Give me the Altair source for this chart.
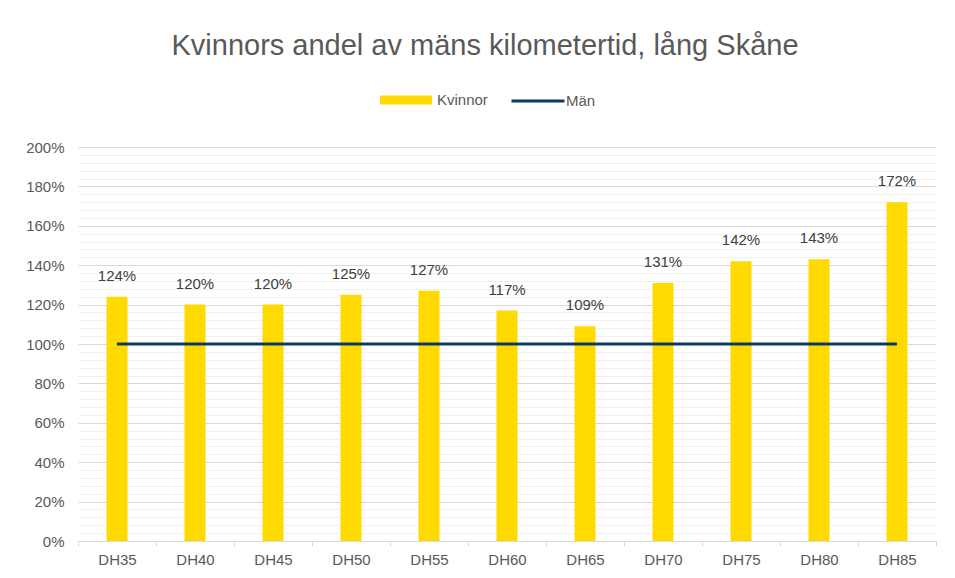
import altair as alt
import pandas as pd

categories = ["DH35", "DH40", "DH45", "DH50", "DH55", "DH60", "DH65", "DH70", "DH75", "DH80", "DH85"]
kvinnor = [1.24, 1.20, 1.20, 1.25, 1.27, 1.17, 1.09, 1.31, 1.42, 1.43, 1.72]
man = [1.0, 1.0, 1.0, 1.0, 1.0, 1.0, 1.0, 1.0, 1.0, 1.0, 1.0]
y_ticks = [i / 100 for i in range(0, 201, 4)]

df = pd.DataFrame({"cat": categories, "kvinnor": kvinnor, "man": man,
                   "k": "Kvinnor", "m": "Män"})

FONT = "Liberation Sans"
YELLOW = "#FFDA00"
NAVY = "#0E3A61"
GRAY = "#595959"

x_axis = alt.Axis(title=None, labelAngle=0, tickBand="extent",
                  domainColor="#D9D9D9", tickColor="#D9D9D9",
                  tickSize=5, labelPadding=6, labelFontSize=15,
                  labelFont=FONT, labelColor=GRAY, grid=False)
xscale = alt.Scale(paddingInner=0, paddingOuter=0)

y_axis = alt.Axis(title=None, values=y_ticks, orient="left", domain=False, ticks=False,
                  labelPadding=14, labelFontSize=15, labelFont=FONT, labelColor=GRAY,
                  labelOverlap=False,
                  labelExpr="round(datum.value*100) % 20 == 0 ? format(datum.value, '.0%') : ''",
                  gridColor={"condition": {"test": "round(datum.value*100) % 20 == 0",
                                           "value": "#D9D9D9"},
                             "value": "#F0F0F0"},
                  gridWidth=1)

yscale = alt.Scale(domain=[0, 2], nice=False)

bars = alt.Chart(df).mark_bar(size=21).encode(
    x=alt.X("cat:N", sort=categories, scale=xscale, axis=x_axis),
    y=alt.Y("kvinnor:Q", scale=yscale, axis=y_axis),
    color=alt.Color("k:N", scale=alt.Scale(domain=["Kvinnor"], range=[YELLOW]),
                    legend=alt.Legend(title=None, orient="none", legendX=302, legendY=-73,
                                      symbolType="M-1,-0.173L1,-0.173L1,0.173L-1,0.173Z",
                                      symbolSize=2704, symbolStrokeWidth=0, labelOffset=5,
                                      labelFontSize=15, labelFont=FONT, labelColor=GRAY)),
)

labels = alt.Chart(df).mark_text(dy=-16, baseline="alphabetic", fontSize=15,
                                 font=FONT, color="#404040").encode(
    x=alt.X("cat:N", sort=categories, scale=xscale, axis=x_axis),
    y=alt.Y("kvinnor:Q", scale=yscale, axis=y_axis),
    text=alt.Text("kvinnor:Q", format=".0%"),
)

line = alt.Chart(df).mark_line(strokeWidth=3).encode(
    x=alt.X("cat:N", sort=categories, scale=xscale, axis=x_axis),
    y=alt.Y("man:Q", scale=yscale, axis=y_axis),
    stroke=alt.Stroke("m:N", scale=alt.Scale(domain=["Män"], range=[NAVY]),
                      legend=alt.Legend(title=None, orient="none", legendX=432, legendY=-74,
                                        symbolType="stroke", symbolSize=2809,
                                        symbolStrokeWidth=3, labelOffset=0,
                                        labelFontSize=15, labelFont=FONT, labelColor=GRAY)),
)

chart = alt.layer(bars, line, labels).properties(
    width=858, height=394,
    autosize=alt.AutoSizeParams(type="none"),
    padding={"left": 70, "top": 139, "right": 11, "bottom": 29},
    title=alt.Title("Kvinnors andel av mäns kilometertid, lång Skåne",
                    fontSize=29, font=FONT, fontWeight="normal", color=GRAY,
                    anchor="middle", dx=-22, baseline="alphabetic", offset=-11),
).configure(background="white").configure_view(stroke=None)

chart.save("out.html", embed_options={"renderer": "svg", "actions": False})
